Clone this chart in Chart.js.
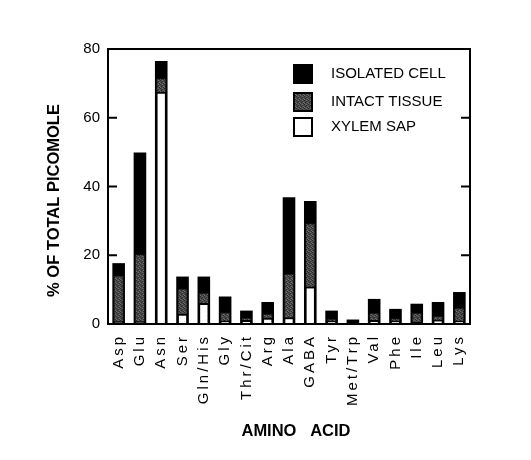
<!DOCTYPE html>
<html lang="en">
<head>
    <meta charset="UTF-8">
    <title>Amino acids</title>
    <script src="https://cdn.jsdelivr.net/npm/chart.js@4.4.1/dist/chart.umd.min.js"></script>
    <style>
        body { margin: 0; background: #fff; }
    </style>
</head>
<body>
<canvas id="chart" width="531" height="460"></canvas>
<script>
    const aminoAcids = ['Asp', 'Glu', 'Asn', 'Ser', 'Gln/His', 'Gly', 'Thr/Cit', 'Arg', 'Ala',
        'GABA', 'Tyr', 'Met/Trp', 'Val', 'Phe', 'Ile', 'Leu', 'Lys'];
    const isolatedCell = [17.7, 49.9, 76.5, 13.8, 13.8, 8, 3.9, 6.4, 36.9, 35.8, 3.9, 1.3, 7.3, 4.4, 5.9, 6.4, 9.3];
    const intactTissue = [14.1, 20.3, 71.5, 10.3, 9.1, 3.4, 1.8, 3, 14.6, 29.3, 1.5, 0, 3.3, 1.7, 3.3, 2.3, 4.7];
    const xylemSap = [0.8, 0.8, 67.6, 3, 6.1, 1, 1.2, 1.8, 2, 10.9, 1, 0, 1.2, 1, 0.6, 1.3, 1];
    const yTicks = [0, 20, 40, 60, 80];
    const yTitle = '% OF TOTAL PICOMOLE';
    const xTitle = 'AMINO   ACID';

    const FONT = '"Liberation Sans", Arial, sans-serif';
    const ctx = document.getElementById('chart').getContext('2d');

    // dotted grey fill like the printed screen tone
    function stipple() {
        const c = document.createElement('canvas');
        c.width = 4; c.height = 4;
        const g = c.getContext('2d');
        g.fillStyle = '#4a4a4a';
        g.fillRect(0, 0, 4, 4);
        g.fillStyle = '#2a2a2a';
        g.fillRect(0, 0, 1, 1); g.fillRect(2, 1, 1, 1); g.fillRect(1, 2, 1, 1); g.fillRect(3, 3, 1, 1);
        g.fillStyle = '#6e6e6e';
        g.fillRect(2, 0, 1, 1); g.fillRect(0, 3, 1, 1); g.fillRect(3, 2, 1, 1);
        return ctx.createPattern(c, 'repeat');
    }
    const grey = stipple();

    // box round the plot with inward tick marks on both sides
    const frame = {
        id: 'frame',
        afterDatasetsDraw(chart) {
            const a = chart.chartArea;
            const y = chart.scales.y;
            const c = chart.ctx;
            c.save();
            c.strokeStyle = '#000';
            c.lineWidth = 2;
            c.strokeRect(a.left, a.top, a.right - a.left, a.bottom - a.top);
            c.beginPath();
            yTicks.forEach(v => {
                const py = y.getPixelForValue(v);
                c.moveTo(a.left, py); c.lineTo(a.left + 9, py);
                c.moveTo(a.right, py); c.lineTo(a.right - 9, py);
            });
            c.stroke();
            c.restore();
        }
    };

    // legend inside the plot (top right) and the two axis titles
    const extras = {
        id: 'extras',
        afterDraw(chart) {
            const a = chart.chartArea;
            const c = chart.ctx;
            const x0 = a.right - 176;
            const rows = [a.top + 25, a.top + 53, a.top + 78];
            c.save();
            c.font = '15px ' + FONT;
            c.textBaseline = 'middle';
            chart.data.datasets.forEach((ds, i) => {
                const cy = rows[i];
                c.fillStyle = ds.backgroundColor;
                c.fillRect(x0, cy - 9, 18, 18);
                c.strokeStyle = '#000';
                c.lineWidth = 2;
                c.strokeRect(x0, cy - 9, 18, 18);
                c.fillStyle = '#000';
                c.fillText(ds.label, x0 + 37, cy);
            });

            c.font = 'bold 16.5px ' + FONT;
            c.textAlign = 'center';
            c.fillText(xTitle, (a.left + a.right) / 2 + 7, a.bottom + 107);
            c.translate(54, (a.top + a.bottom) / 2 + 14);
            c.rotate(-Math.PI / 2);
            c.fillText(yTitle, 0, 0);
            c.restore();
        }
    };

    new Chart(ctx, {
        type: 'bar',
        data: {
            labels: aminoAcids,
            datasets: [{
                label: 'ISOLATED CELL',
                data: isolatedCell,
                backgroundColor: '#000',
                borderColor: '#000',
                borderWidth: 0,
                barPercentage: 0.74,
                grouped: false,
                order: 3
            }, {
                label: 'INTACT TISSUE',
                data: intactTissue,
                backgroundColor: grey,
                borderColor: '#111',
                borderWidth: 1,
                barPercentage: 0.6,
                grouped: false,
                order: 2
            }, {
                label: 'XYLEM SAP',
                data: xylemSap,
                backgroundColor: '#fff',
                borderColor: '#000',
                borderWidth: 2,
                barPercentage: 0.66,
                grouped: false,
                order: 1
            }]
        },
        options: {
            responsive: false,
            animation: false,
            layout: { padding: { left: 0, right: 61, top: 49, bottom: 0 } },
            plugins: {
                legend: { display: false },
                tooltip: { enabled: false }
            },
            scales: {
                x: {
                    categoryPercentage: 1,
                    grid: { display: false, drawTicks: false },
                    border: { display: false },
                    ticks: {
                        minRotation: 90, maxRotation: 90, padding: 10, autoSkip: false,
                        color: '#000',
                        font: { family: FONT, size: 15 }
                    },
                    afterFit(scale) { scale.height = 136; },
                    afterUpdate(scale) {
                        // the printed labels are widely letter-spaced
                        if (scale._spaced) return;
                        const draw = scale.drawLabels;
                        scale.drawLabels = function (area) {
                            this.ctx.save();
                            this.ctx.letterSpacing = '3px';
                            draw.call(this, area);
                            this.ctx.restore();
                        };
                        scale._spaced = true;
                    }
                },
                y: {
                    min: 0, max: 80,
                    grid: { display: false, drawTicks: false },
                    border: { display: false },
                    ticks: {
                        stepSize: 20, padding: 8, color: '#000',
                        font: { family: FONT, size: 15 }
                    },
                    afterFit(scale) { scale.width = 108; }
                }
            }
        },
        plugins: [frame, extras]
    });
</script>
</body>
</html>
